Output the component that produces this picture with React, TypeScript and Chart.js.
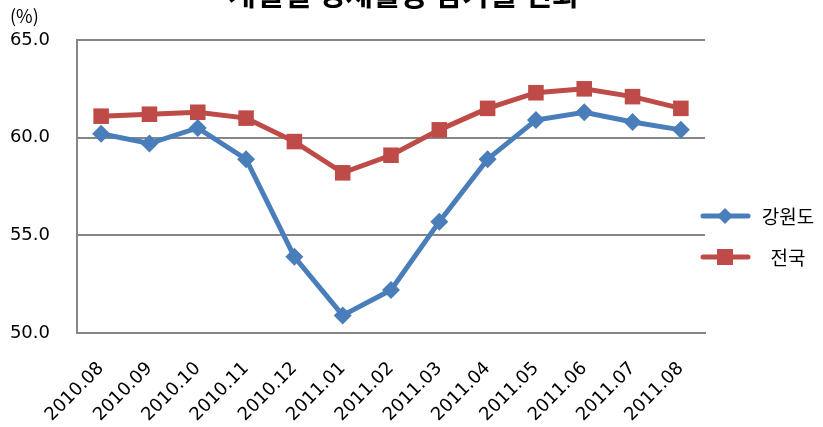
import React, { useEffect, useRef } from "react";
import { Chart, registerables } from "chart.js";

Chart.register(...registerables);

const categories = ["2010.08", "2010.09", "2010.10", "2010.11", "2010.12", "2011.01", "2011.02", "2011.03", "2011.04", "2011.05", "2011.06", "2011.07", "2011.08"];
const gangwon = [60.2, 59.7, 60.5, 58.9, 53.9, 50.9, 52.2, 55.7, 58.9, 60.9, 61.3, 60.8, 60.4];
const national = [61.1, 61.2, 61.3, 61.0, 59.8, 58.2, 59.1, 60.4, 61.5, 62.3, 62.5, 62.1, 61.5];
const seriesNames = ["강원도", "전국"];
const yTicks = [50, 55, 60, 65];
const titleText = "계절별 경제활동 참가율 변화";
const unitText = "(%)";

const FONT = "'DejaVu Sans', 'Noto Sans CJK KR', sans-serif";
const KFONT = "'Noto Sans CJK KR', sans-serif";
const BLUE = "#4a7ebb";
const RED = "#be4b48";

export default function App() {
  const ref = useRef<HTMLCanvasElement>(null);
  useEffect(() => {
    document.body.style.margin = "0";
    const canvas = ref.current!;
    const extras = {
      id: "extras",
      afterDraw(chart: any) {
        const ctx = chart.ctx;
        ctx.save();
        // title (cut off at top)
        ctx.fillStyle = "#000";
        ctx.font = `bold 30px ${KFONT}`;
        ctx.textAlign = "center";
        ctx.textBaseline = "alphabetic";
        ctx.fillText(titleText, 404, 5);
        // unit label
        ctx.font = `18px ${KFONT}`;
        ctx.textAlign = "left";
        ctx.fillText(unitText, 10, 23);
        // legend
        const items = chart.data.datasets;
        const ys = [216, 257];
        items.forEach((ds: any, i: number) => {
          const y = ys[i];
          ctx.strokeStyle = ds.borderColor;
          ctx.lineWidth = 5;
          ctx.lineCap = "round";
          ctx.beginPath();
          ctx.moveTo(703, y);
          ctx.lineTo(748, y);
          ctx.stroke();
          ctx.fillStyle = ds.backgroundColor;
          if (ds.pointStyle === "rectRot") {
            ctx.beginPath();
            ctx.moveTo(725, y - 8);
            ctx.lineTo(733, y);
            ctx.lineTo(725, y + 8);
            ctx.lineTo(717, y);
            ctx.closePath();
            ctx.fill();
          } else {
            ctx.fillRect(717, y - 8, 16, 16);
          }
          ctx.fillStyle = "#000";
          ctx.font = `19px ${KFONT}`;
          ctx.textAlign = "center";
          ctx.textBaseline = "middle";
          ctx.fillText(ds.label, 788, y + 1);
        });
        ctx.restore();
      },
    };
    const chart = new Chart(canvas, {
      type: "line",
      data: {
        labels: categories,
        datasets: [
          {
            label: seriesNames[0],
            data: gangwon,
            borderColor: BLUE,
            backgroundColor: BLUE,
            borderWidth: 5,
            pointStyle: "rectRot",
            pointRadius: 9,
            pointBorderWidth: 0,
            tension: 0,
          },
          {
            label: seriesNames[1],
            data: national,
            borderColor: RED,
            backgroundColor: RED,
            borderWidth: 5,
            pointStyle: "rect",
            pointRadius: 11,
            pointBorderWidth: 0,
            tension: 0,
          },
        ],
      },
      options: {
        responsive: false,
        animation: false,
        layout: { padding: { left: 0, right: 118, top: 40, bottom: 0 } },
        plugins: { legend: { display: false }, title: { display: false }, tooltip: { enabled: false } },
        scales: {
          x: {
            offset: true,
            grid: { display: false, drawTicks: false },
            border: { color: "#868686", width: 2 },
            ticks: {
              color: "#000",
              font: { family: FONT, size: 18 },
              minRotation: 45,
              maxRotation: 45,
              padding: 25,
              autoSkip: false,
            },
            afterFit(scale: any) {
              scale.height = 94;
            },
          },
          y: {
            min: 50,
            max: 65,
            afterBuildTicks(scale: any) {
              scale.ticks = yTicks.map((v) => ({ value: v }));
            },
            grid: { color: "#868686", lineWidth: 2, drawTicks: false },
            border: { color: "#868686", width: 2 },
            ticks: {
              color: "#000",
              font: { family: FONT, size: 18 },
              padding: 27,
              callback: (v: any) => Number(v).toFixed(1),
            },
            afterFit(scale: any) {
              scale.width = 77;
            },
          },
        },
      },
      plugins: [extras],
    });
    return () => chart.destroy();
  }, []);
  return (
    <div style={{ position: "absolute", left: 0, top: 0, width: 823, height: 427, background: "#fff" }}>
      <canvas ref={ref} width={823} height={427} />
    </div>
  );
}
